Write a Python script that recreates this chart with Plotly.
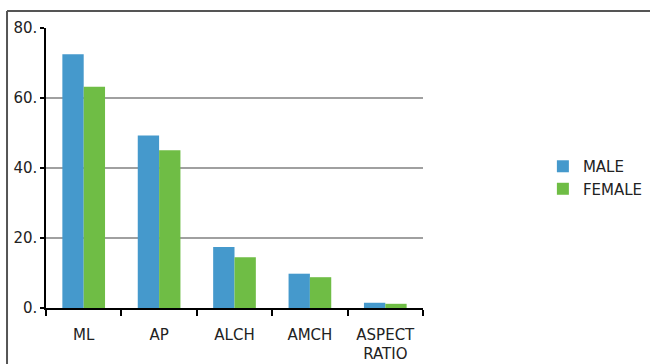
import plotly.graph_objects as go

# Measurements by sex
categories = ["ML", "AP", "ALCH", "AMCH", "ASPECT<br>RATIO"]
male = [72.5, 49.3, 17.4, 9.8, 1.5]
female = [63.2, 45.1, 14.5, 8.8, 1.2]

y_ticks = [0, 20, 40, 60, 80]
y_tick_labels = ["0.", "20.", "40.", "60.", "80."]

BLUE = "#4599CC"
GREEN = "#6FBD45"
FONT = "DejaVu Sans, Verdana, sans-serif"

fig = go.Figure()
fig.add_trace(go.Bar(x=categories, y=male, name="MALE", marker=dict(color=BLUE, line=dict(width=0))))
fig.add_trace(go.Bar(x=categories, y=female, name="FEMALE", marker=dict(color=GREEN, line=dict(width=0))))

fig.update_layout(
    width=650,
    height=364,
    margin=dict(l=46, r=227, t=28, b=56, autoexpand=False),
    paper_bgcolor="white",
    plot_bgcolor="white",
    barmode="group",
    bargap=0.434,
    bargroupgap=0,
    font=dict(family=FONT, size=15, color="#222222"),
    legend=dict(
        x=1.318,
        xanchor="left",
        y=0.466,
        yanchor="middle",
        font=dict(size=15, color="#222222"),
        bgcolor="rgba(0,0,0,0)",
        tracegroupgap=0,
    ),
    xaxis=dict(
        type="category",
        automargin=False,
        showline=True,
        linecolor="black",
        linewidth=1.5,
        ticks="outside",
        tickson="boundaries",
        ticklen=6,
        tickwidth=1.5,
        tickcolor="black",
        showgrid=False,
        ticklabelstandoff=12,
        tickfont=dict(size=15),
    ),
    yaxis=dict(
        range=[0, 80],
        automargin=False,
        tickvals=y_ticks,
        ticktext=y_tick_labels,
        showline=True,
        linecolor="black",
        linewidth=1.5,
        ticks="outside",
        ticklen=4,
        tickwidth=1.5,
        tickcolor="black",
        showgrid=True,
        gridcolor="#A0A0A0",
        gridwidth=1.5,
        zeroline=False,
        ticklabelstandoff=0,
        tickfont=dict(size=15),
    ),
    shapes=[
        # outer frame: top and left edges
        dict(type="line", xref="paper", yref="paper", x0=-0.1034, x1=1.62, y0=1.0607, y1=1.0607,
             line=dict(color="#555555", width=2)),
        dict(type="line", xref="paper", yref="paper", x0=-0.1034, x1=-0.1034, y0=1.0607, y1=-0.21,
             line=dict(color="#555555", width=2)),
    ],
)

fig.write_html("out.html")
